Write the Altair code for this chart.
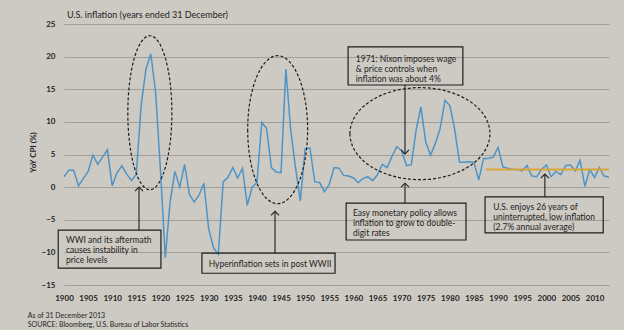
import altair as alt
import pandas as pd

# ---------------- data ----------------
years = list(range(1900, 2014))
cpi = [
    1.6, 2.6, 2.6, 0.2, 1.3, 2.4, 4.9, 3.5, 4.6, 5.7,      # 1900-1909
    0.2, 2.2, 3.3, 2.0, 1.0, 2.0, 12.6, 18.1, 20.4, 14.5,  # 1910-1919
    2.6, -10.8, -2.3, 2.4, 0.0, 3.5, -1.1, -2.3, -1.2, 0.6,  # 1920-1929
    -6.4, -9.3, -10.3, 0.8, 1.5, 3.0, 1.4, 2.9, -2.8, 0.0,   # 1930-1939
    0.7, 9.9, 9.0, 3.0, 2.3, 2.2, 18.1, 8.8, 3.0, -2.1,      # 1940-1949
    5.9, 6.0, 0.8, 0.7, -0.7, 0.4, 3.0, 2.9, 1.8, 1.7,       # 1950-1959
    1.4, 0.7, 1.3, 1.6, 1.0, 1.9, 3.5, 3.0, 4.7, 6.2,        # 1960-1969
    5.6, 3.3, 3.4, 8.7, 12.3, 6.9, 4.9, 6.7, 9.0, 13.3,      # 1970-1979
    12.5, 8.9, 3.8, 3.8, 3.9, 3.8, 1.1, 4.4, 4.4, 4.6,       # 1980-1989
    6.1, 3.1, 2.9, 2.7, 2.7, 2.5, 3.3, 1.7, 1.6, 2.7,        # 1990-1999
    3.4, 1.6, 2.4, 1.9, 3.3, 3.4, 2.5, 4.1, 0.1, 2.7,        # 2000-2009
    1.5, 3.0, 1.7, 1.5,                                      # 2010-2013
]
x_ticks = list(range(1900, 2011, 5))
y_ticks = [-15, -10, -5, 0, 5, 10, 15, 20, 25]
avg_start, avg_end, avg_value = 1987.5, 2013, 2.7

title_text = "U.S. inflation (years ended 31 December)"
note_lines = ["As of 31 December 2013", "SOURCE: Bloomberg, U.S. Bureau of Labor Statistics"]

box_texts = [
    ["WWI and its aftermath", "causes instability in", "price levels"],
    ["Hyperinflation sets in post WWII"],
    ["1971: Nixon imposes wage", "& price controls when", "inflation was about 4%"],
    ["Easy monetary policy allows", "inflation to grow to double-", "digit rates"],
    ["U.S. enjoys 26 years of", "uninterrupted, low inflation", "(2.7% annual average)"],
]

# annotation geometry (in data units: year, %); ty = first text line
boxes = [
    dict(x=1898.8, x2=1920.1, y=-6.6, y2=-12.4, tx=1900.4, ty=-8.1),
    dict(x=1928.6, x2=1956.2, y=-10.1, y2=-13.2, tx=1930.0, ty=-11.8),
    dict(x=1958.9, x2=1982.7, y=21.5, y2=15.65, tx=1960.5, ty=19.7),
    dict(x=1958.5, x2=1983.35, y=-2.45, y2=-8.1, tx=1959.9, ty=-4.0),
    dict(x=1987.3, x2=2011.8, y=-1.5, y2=-7.0, tx=1989.0, ty=-3.05),
]
arrows = [
    dict(x=1915.55, tip=0.0, tail=-6.6, up=True),
    dict(x=1943.75, tip=-3.7, tail=-10.1, up=True),
    dict(x=1970.7, tip=5.1, tail=15.65, up=False),
    dict(x=1970.7, tip=0.6, tail=-2.45, up=True),
    dict(x=1999.7, tip=2.0, tail=-1.5, up=True),
]
ellipses = [
    dict(x=1917.8, y=11.4, path="M -0.286 0 A 0.286 1 0 1 0 0.286 0 A 0.286 1 0 1 0 -0.286 0 Z", size=23716),
    dict(x=1944.3, y=8.8, path="M -0.405 0 A 0.405 1 0 1 0 0.405 0 A 0.405 1 0 1 0 -0.405 0 Z", size=21904),
    dict(x=1973.8, y=8.2, path="M -1 0 A 1 0.657 0 1 0 1 0 A 1 0.657 0 1 0 -1 0 Z", size=19600),
]

FONT = "Lato"
INK = "#1e1e1e"
BG = "#cdcac3"

df = pd.DataFrame({"year": years, "cpi": cpi})

xs = alt.Scale(domain=[1900, 2013], nice=False, zero=False)
ys = alt.Scale(domain=[-15, 25], nice=False, zero=False)

X_AX = alt.Axis(
    values=x_ticks, format="d", grid=False, domain=False, ticks=False,
    labelFont=FONT, labelFontSize=8, labelFontWeight="bold", labelColor=INK, labelPadding=9,
    title=None, labelOverlap=False, labelFlush=False)
Y_AX = alt.Axis(
    values=y_ticks, grid=True, gridColor="#a19f98", gridWidth=1, domain=False, ticks=False,
    labelFont=FONT, labelFontSize=8, labelFontWeight="bold", labelColor=INK, labelPadding=9,
    labelFlush=False,
    title="YoY CPI (%)", titleFont=FONT, titleFontSize=8, titleFontWeight="bold",
    titleColor=INK, titleX=-31, titleY=128, titleAngle=-90, titleAlign="center",
    titleBaseline="middle")


def X(f):
    return alt.X(f"{f}:Q", scale=xs, axis=X_AX)


def Y(f):
    return alt.Y(f"{f}:Q", scale=ys, axis=Y_AX)


line = alt.Chart(df).mark_line(color="#4f94c6", strokeWidth=1.5).encode(x=X("year"), y=Y("cpi"))

avg = alt.Chart(pd.DataFrame({"x": [avg_start], "x2": [avg_end], "y": [avg_value]})).mark_rule(
    color="#d9a43a", strokeWidth=2).encode(x=X("x"), x2="x2:Q", y=Y("y"))

ell_layers = []
for e in ellipses:
    ell_layers.append(
        alt.Chart(pd.DataFrame({"x": [e["x"]], "y": [e["y"]]})).mark_point(
            shape=e["path"], size=e["size"], filled=False, stroke=INK, strokeWidth=1.2,
            strokeDash=[3, 2], opacity=1).encode(x=X("x"), y=Y("y")))

box_df = pd.DataFrame(boxes)
rects = alt.Chart(box_df).mark_rect(fillOpacity=0, stroke=INK, strokeWidth=1.2).encode(
    x=X("x"), x2="x2:Q", y=Y("y"), y2="y2:Q")

text_values = [dict(tx=b["tx"], ty=b["ty"], t=t) for b, t in zip(boxes, box_texts)]
texts = alt.Chart(alt.Data(values=text_values)).mark_text(
    align="left", baseline="middle", font=FONT, fontSize=8.5, color=INK, lineHeight=10).encode(
    x=X("tx"), y=Y("ty"), text="t:N")

arr_df = pd.DataFrame(arrows)
shafts = alt.Chart(arr_df).mark_rule(color=INK, strokeWidth=1.1).encode(
    x=X("x"), y=Y("tip"), y2="tail:Q")
heads_up = alt.Chart(arr_df[arr_df.up]).mark_point(
    shape="M -1 1 L 0 0 L 1 1", size=64, filled=False, stroke=INK, strokeWidth=1.1, opacity=1).encode(
    x=X("x"), y=Y("tip"))
heads_down = alt.Chart(arr_df[~arr_df.up]).mark_point(
    shape="M -1 -1 L 0 0 L 1 -1", size=64, filled=False, stroke=INK, strokeWidth=1.1, opacity=1).encode(
    x=X("x"), y=Y("tip"))

title = alt.Chart(pd.DataFrame({"x": [1900.6], "y": [26.4], "t": [title_text]})).mark_text(
    align="left", baseline="middle", font=FONT, fontSize=9, color=INK).encode(
    x=X("x"), y=Y("y"), text="t:N")

notes = alt.Chart(pd.DataFrame({"x": [1892.5, 1892.5], "y": [-19.75, -21.15], "t": note_lines})).mark_text(
    align="left", baseline="middle", font=FONT, fontSize=7, color=INK).encode(
    x=X("x"), y=Y("y"), text="t:N")

chart = alt.layer(line, avg, *ell_layers, rects, shafts, heads_up, heads_down, texts, title, notes).properties(
    width=545, height=261,
    autosize=alt.AutoSizeParams(type="none"),
    padding={"left": 64, "top": 24, "right": 15, "bottom": 45},
    background=BG,
).configure_view(stroke=None)

chart.save("out.html", embed_options={"renderer": "svg", "actions": False})
